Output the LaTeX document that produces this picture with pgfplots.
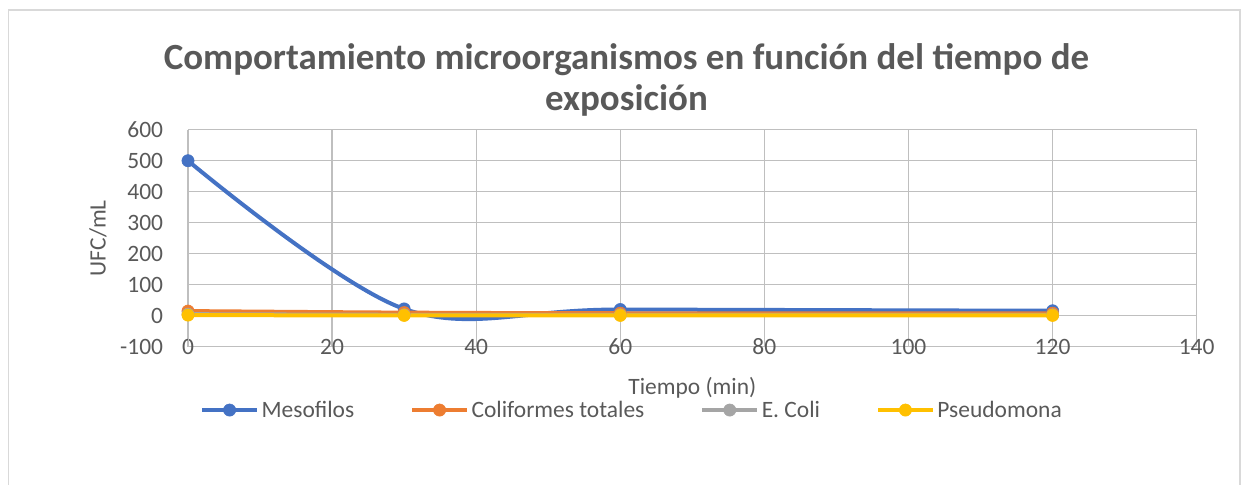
\documentclass[border=0pt]{standalone}
\usepackage{fontspec}
\setmainfont{Carlito}
\usepackage{pgfplots}
\pgfplotsset{compat=1.18}
\definecolor{cblue}{HTML}{4472C4}
\definecolor{corange}{HTML}{ED7D31}
\definecolor{cgray}{HTML}{A5A5A5}
\definecolor{cyellow}{HTML}{FFC000}
\definecolor{tgray}{HTML}{595959}
\definecolor{grid}{HTML}{D9D9D9}
\definecolor{axgray}{HTML}{BFBFBF}
\begin{document}
\begin{tikzpicture}
\useasboundingbox (0,0) rectangle (932.25pt,363.75pt);
\draw[grid, line width=1pt] (6.5pt,-10pt) rectangle (930pt,356.25pt);
\begin{axis}[
  at={(141pt,103.7pt)}, anchor=south west,
  scale only axis, width=756.5pt, height=162.75pt,
  xmin=0, xmax=140, ymin=-100, ymax=600,
  xtick={0,20,...,140}, ytick={-100,0,...,600},
  /pgf/number format/assume math mode=true,
  grid=major, grid style={grid, line width=0.9pt},
  axis line style={draw=none},
  major tick length=0pt,
  tick label style={font=\fontsize{17.6}{21}\selectfont, text=tgray},
  yticklabel style={anchor=east, inner sep=0pt, xshift=-18.5pt},
  xticklabel style={anchor=center, inner sep=0pt},
  xlabel={Tiempo (min)},
  xlabel style={at={(rel axis cs:0.5,0)}, anchor=center, yshift=-30.5pt, font=\fontsize{17.6}{21}\selectfont, text=tgray},
  ylabel={UFC/mL},
  ylabel style={at={(rel axis cs:-0.0892,0.5)}, anchor=center, font=\fontsize{17.6}{21}\selectfont, text=tgray},
  title={Comportamiento microorganismos en función del tiempo de\\exposición},
  title style={at={(rel axis cs:0.5,1)}, anchor=center, align=center, xshift=-49.4pt, yshift=31.5pt, font=\bfseries\fontsize{27.7}{30.75}\selectfont, text=tgray},
  legend columns=4,
  legend style={at={(rel axis cs:0,0)}, anchor=west, xshift=9pt, yshift=-47.5pt, draw=none, fill=none, inner sep=0pt, font=\fontsize{17.6}{21}\selectfont, text=tgray, /tikz/every even column/.append style={column sep=40pt}},
  legend cell align=left,
  legend image code/.code={\draw[mark repeat=2,mark phase=2] plot coordinates {(0pt,0pt) (20.5pt,0pt) (41pt,0pt)};},
  every axis plot/.append style={line width=3pt, smooth, tension=0.55, mark=*, mark size=4.6pt, mark options={line width=0.4pt}},
]
\draw[axgray, line width=1pt] (axis cs:0,-100) -- (axis cs:0,600);
\draw[axgray, line width=1pt] (axis cs:0,0) -- (axis cs:140,0);
\addplot[color=cblue] coordinates {(0,500) (30,22) (60,20) (120,16)};
\addlegendentry{Mesofilos}
\addplot[color=corange] coordinates {(0,15) (30,10) (60,8) (120,8)};
\addlegendentry{Coliformes totales}
\addplot[color=cgray] coordinates {(0,5) (30,3) (60,3) (120,3)};
\addlegendentry{E. Coli}
\addplot[color=cyellow] coordinates {(0,2) (30,1) (60,1) (120,1)};
\addlegendentry{Pseudomona}
\end{axis}
\end{tikzpicture}
\end{document}
